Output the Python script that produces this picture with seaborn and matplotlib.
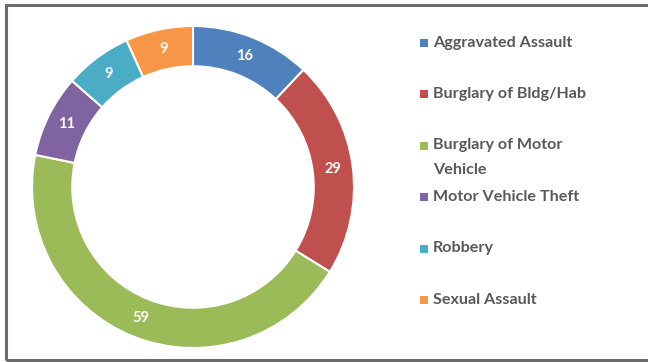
import matplotlib
matplotlib.use("Agg")
import matplotlib.pyplot as plt
import seaborn as sns
import numpy as np
from matplotlib.patches import Rectangle

categories = ["Aggravated Assault", "Burglary of Bldg/Hab", "Burglary of Motor\nVehicle",
              "Motor Vehicle Theft", "Robbery", "Sexual Assault"]
values = [16, 29, 59, 11, 9, 9]
colors = ["#4F81BD", "#C0504D", "#9BBB59", "#8064A2", "#4BACC6", "#F79646"]

sns.set_theme(style="white")
plt.rcParams["font.family"] = ["Lato", "DejaVu Sans"]

W, H = 648, 362
fig = plt.figure(figsize=(W / 100, H / 100), dpi=100)

# frame
fig.patches.append(Rectangle((5.5 / W, 1 - 359.5 / H), 1.2, (359.5 - 4.5) / H,
                             transform=fig.transFigure, fill=False,
                             edgecolor="#6b6b6b", linewidth=2.2, zorder=0))

cx, cy, R = 193, 187, 161
ax = fig.add_axes([(cx - R) / W, (H - cy - R) / H, 2 * R / W, 2 * R / H])
wedges, _ = ax.pie(values, colors=colors, startangle=90, counterclock=False, radius=1,
                   wedgeprops=dict(width=0.25, edgecolor="white", linewidth=1.5))
for w, v in zip(wedges, values):
    ang = np.deg2rad((w.theta1 + w.theta2) / 2)
    ax.text(0.875 * np.cos(ang), 0.875 * np.sin(ang), str(v), ha="center", va="center",
            color="white", fontsize=10.5, fontweight="bold")
ax.set_xlim(-1, 1)
ax.set_ylim(-1, 1)
ax.set_aspect("equal")
ax.axis("off")

# legend
y0, dy = 43, 51.4
for i, (lab, c) in enumerate(zip(categories, colors)):
    y = y0 + i * dy
    fig.patches.append(Rectangle((420 / W, 1 - (y + 4) / H), 8 / W, 8 / H,
                                 transform=fig.transFigure, facecolor=c, edgecolor="none"))
    fig.text(433 / W, 1 - (y - 7.5) / H, lab, ha="left", va="top", fontsize=11.6,
             fontweight="bold", color="#595959", linespacing=1.95)

fig.savefig("out.png", dpi=100)
